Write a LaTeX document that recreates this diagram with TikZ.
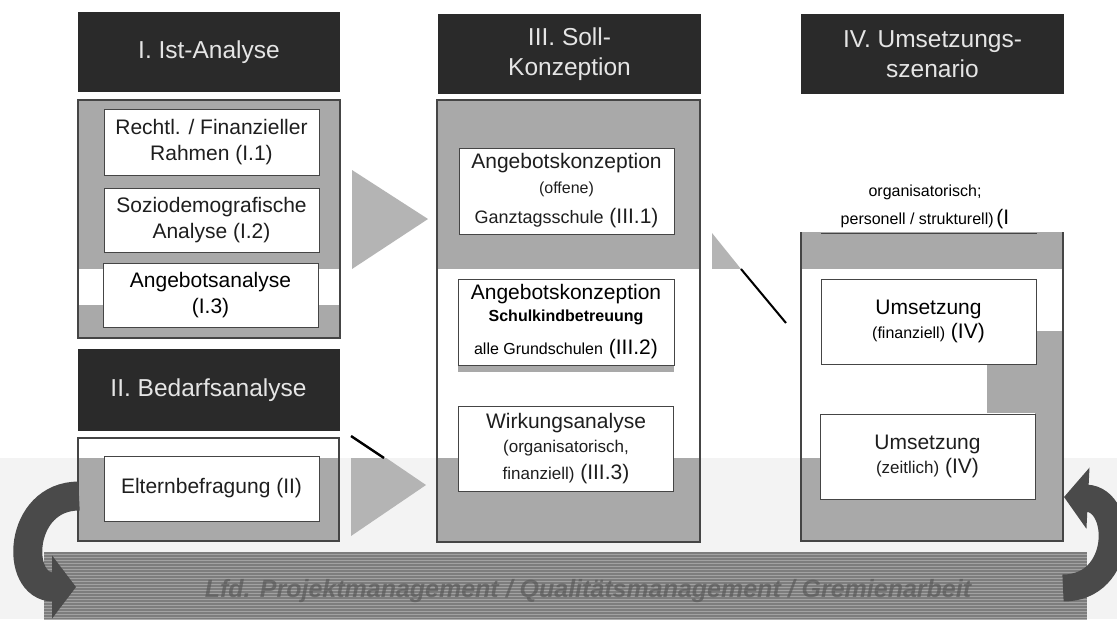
\documentclass[tikz,border=0pt]{standalone}
\usepackage{fontspec}
\setmainfont{Liberation Sans}
\usetikzlibrary{arrows.meta}
\definecolor{hdr}{HTML}{2A2A2A}
\definecolor{pan}{HTML}{A9A9A9}
\definecolor{tri}{HTML}{B4B4B4}
\definecolor{bgl}{HTML}{F3F3F3}
\definecolor{barfill}{HTML}{A2A2A2}
\definecolor{barline}{HTML}{5A5A5A}
\definecolor{bartxt}{HTML}{707070}
\definecolor{curv}{HTML}{4A4A4A}
\definecolor{txt}{HTML}{1E1E1E}
\definecolor{outl}{HTML}{454545}
\newcommand{\fsz}[1]{\fontsize{#1}{#1}\selectfont}
\begin{document}
\begin{tikzpicture}[x=1pt,y=-1pt,
  hdrbox/.style={fill=hdr, text=white!90!black, minimum width=262pt, minimum height=80pt,
    inner sep=0pt, align=center, font=\fontsize{24.5}{30}\selectfont},
  wbox/.style={fill=white, draw=outl, line width=0.9pt, inner sep=0pt, align=center,
    text=txt, minimum width=215pt, font=\fontsize{21}{26}\selectfont},
  panelfill/.style={fill=pan},
  paneledge/.style={draw=outl, line width=1.1pt},
  blockarrow/.style={fill=tri},
  cutline/.style={draw=black, line width=2.4pt},
  looparrow/.style={draw=curv, line width=29pt}
]
\useasboundingbox (0,0) rectangle (1117,619);
\fill[white] (0,0) rectangle (1117,619);
% light background of the lower part
\fill[bgl] (0,458) rectangle (1117,619);

% panels (gray fill)
\path[panelfill] (78,100) rectangle (340,338);
\path[panelfill] (78,438) rectangle (339,541);
\path[panelfill] (437,100) rectangle (700,542);
\path[panelfill] (801,232) rectangle (1063,541);

% block arrows
\path[blockarrow] (352,170) -- (428,219) -- (352,269) -- cycle;
\path[blockarrow] (351,434) -- (426,485) -- (351,536) -- cycle;
\path[blockarrow] (712,233) -- (741,269) -- (712,269) -- cycle;

% scan band without gray fills
\fill[white] (40,269) rectangle (1117,458);
\fill[bgl] (0,458) rectangle (40,470);
% gray fills that remain inside the band
\path[panelfill] (78,305) rectangle (340,338);
\path[panelfill] (458,365) rectangle (674,372);
\path[panelfill] (1035,331) rectangle (1063,458);
\path[panelfill] (987,364) rectangle (1035,413);

% panel outlines
\draw[paneledge] (78,100) rectangle (340,338);
\draw[paneledge] (78,438) rectangle (339,541);
\draw[paneledge] (437,100) rectangle (700,542);
\draw[paneledge] (801,232) -- (801,541) -- (1063,541) -- (1063,232);

% headers
\node[hdrbox] (h1) at (209,52) {I. Ist-Analyse};
\node[hdrbox, minimum width=263pt] (h3) at (569.5,54) {III. Soll-\\Konzeption};
\node[hdrbox, minimum width=263pt] (h4) at (932.5,54) {IV. Umsetzungs-\\szenario};
\node[hdrbox, minimum height=82pt] (h2) at (208.5,390) {II. Bedarfsanalyse};

% boxes column I
\node[wbox, minimum height=66pt] (i1) at (211.5,142) {Rechtl. / Finanzieller\\Rahmen (I.1)};
\node[wbox, minimum height=64pt] (i2) at (211.5,220) {Soziodemografische\\Analyse (I.2)};
\node[wbox, minimum height=64pt, text=black] (i3) at (210.5,295) {Angebotsanalyse\\(I.3)};
\node[wbox, minimum height=65pt] (ii) at (211.5,488.5) {Elternbefragung (II)};

% boxes column III
\node[wbox, minimum height=86pt] (iii1) at (566.5,191)
  {Angebotskonzeption\\[-1pt]{\fsz{16}(offene)}\\[4pt]{\fsz{18}Ganztagsschule} (III.1)};
\node[wbox, minimum width=216pt, minimum height=86pt, text=black] (iii2) at (566,322)
  {Angebotskonzeption\\[-4pt]{\fsz{16}\bfseries Schulkindbetreuung}\\[7pt]{\fsz{16}alle Grundschulen} (III.2)};
\node[wbox, minimum height=85pt] (iii3) at (566,448.5)
  {Wirkungsanalyse\\[-2pt]{\fsz{17}(organisatorisch,}\\[1pt]{\fsz{17}finanziell)} (III.3)};

% boxes column IV
\node[text=black, align=center, inner sep=0pt] (iv1) at (925,207)
  {{\fsz{16}organisatorisch;}\\[8pt]{\fsz{16}personell / strukturell)} {\fsz{21}(I}};
\draw[outl, line width=0.9pt] (821,233) -- (1037,233);
\node[wbox, minimum height=85pt, text=black] (iv2) at (928.5,321.5)
  {Umsetzung\\[-2pt]{\fsz{16}(finanziell)} (IV)};
\node[wbox, minimum height=85pt] (iv3) at (927.5,456.5)
  {Umsetzung\\[-2pt]{\fsz{17}(zeitlich)} (IV)};

% outlines of the block arrows inside the band
\draw[cutline] (351,436) -- (384,458);
\draw[cutline, line width=2pt] (741,269) -- (786,323);

% bottom bar
\fill[barfill] (44,552) rectangle (1087,619);
\node[text=bartxt, font=\fontsize{25}{28}\selectfont\bfseries\itshape, inner sep=0pt] (bar) at (588,591)
  {Lfd. Projektmanagement / Qualitätsmanagement / Gremienarbeit};
\foreach \yy in {553,556,...,619} {
  \draw[barline, line width=1.1pt, opacity=0.5] (44,\yy) -- (1087,\yy);
}

% curved arrows
\coordinate (lstart) at (79,496);
\coordinate (lend) at (76,587);
\draw[looparrow, -{Triangle[length=24pt,width=62pt]}] (lstart) .. controls (18,496) and (14,587) .. (lend);
\coordinate (rstart) at (1063,588);
\coordinate (rend) at (1064,497);
\draw[looparrow, line width=27pt, -{Triangle[length=24pt,width=60pt]}] (rstart) .. controls (1124,588) and (1124,500) .. (rend);
\end{tikzpicture}
\end{document}
